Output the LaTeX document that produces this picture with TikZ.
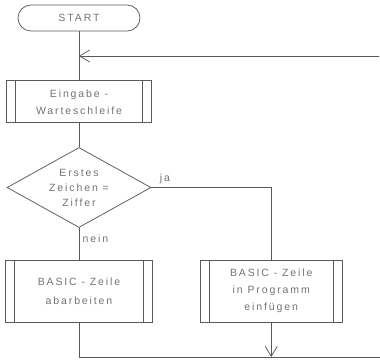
\documentclass[tikz,border=0pt]{standalone}
\usepackage{fontspec}
\newfontfamily\flowfont[LetterSpace=18]{Liberation Sans}
\usetikzlibrary{arrows.meta,positioning,shapes.geometric}
\colorlet{inkgray}{black!65}
\colorlet{textgray}{black!55}
\tikzset{
  term/.style={rectangle, rounded corners=13pt, draw=inkgray,
               minimum width=122pt, minimum height=26pt},
  subproc/.style={rectangle, draw=inkgray, align=center,
               minimum height=#1,
               path picture={
                 \draw[inkgray] ([xshift=9pt]path picture bounding box.north west)
                   -- ([xshift=9pt]path picture bounding box.south west);
                 \draw[inkgray] ([xshift=-9pt]path picture bounding box.north east)
                   -- ([xshift=-9pt]path picture bounding box.south east);}},
  decide/.style={diamond, draw=inkgray, aspect=1.8, inner sep=0pt, align=center,
               minimum width=144pt, minimum height=80pt},
  arr/.style={-{Straight Barb[length=10pt,width=12pt]}},
}

\begin{document}
\begin{tikzpicture}[line width=0.75pt, draw=inkgray,
    every node/.style={font=\flowfont\fontsize{10.5}{17}\selectfont, text=textgray}]
  \useasboundingbox (0,0) rectangle (380pt,-360pt);

  \node[term] (start) at (79pt,-18pt) {START};
  \node[subproc=42pt, minimum width=145pt, below=49pt of start] (input)
        {Eingabe -\\Warteschleife};
  \node[decide, below=24pt of input] (digit)
        {Erstes\\[-2pt]Zeichen =\\[-2pt]Ziffer};
  \node[subproc=62pt, minimum width=147pt, below=32pt of digit] (run)
        {BASIC - Zeile\\[2pt]abarbeiten};
  \node[subproc=62pt, minimum width=142pt, right=47pt of run] (insert)
        {BASIC - Zeile\\in Programm\\einfügen};

  \coordinate (back) at (379pt,-56pt);
  \coordinate (out) at (380pt,-357pt);

  \draw (start) -- (input);
  \draw[arr, inkgray] (back) -- (back -| start.south);
  \draw (input) -- (digit);
  \draw (digit.east) -| node[pos=0.02, above right=0pt]{ja} (insert.north);
  \draw (digit.south) -- node[pos=0.35, right=0pt]{nein} (run.north);
  \draw (run.south) |- (out);
  \draw[arr, inkgray] (insert.south) -- (insert.south |- out);
\end{tikzpicture}
\end{document}
